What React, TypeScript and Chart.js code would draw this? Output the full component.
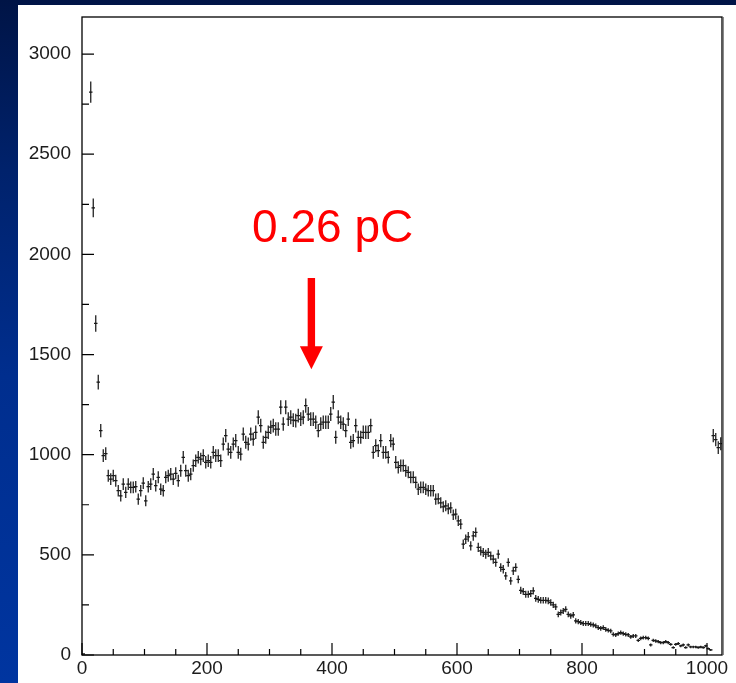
import React, { useEffect, useRef } from "react";
import { Chart, registerables } from "chart.js";

Chart.register(...registerables);

// ---- data ----
const BIN_WIDTH = 4;
const X_MIN = 0;
const X_MAX = 1024;
const Y_MIN = 0;
const Y_MAX = 3185;

const X_TICKS = [0, 200, 400, 600, 800, 1000];
const Y_TICKS = [0, 500, 1000, 1500, 2000, 2500, 3000];
const X_MINOR_STEP = 50;
const Y_MINOR_STEP = 250;

// counts per 4-wide bin (256 bins, 0..1024)
const COUNTS_0_49 = [
  5, 0, 0, 2810, 2232, 1655, 1362, 1120, 995, 1005,
  895, 878, 895, 870, 820, 795, 853, 812, 853, 837,
  837, 840, 778, 820, 858, 770, 840, 853, 903, 845,
  887, 828, 820, 887, 895, 903, 878, 907, 870, 920,
  987, 920, 895, 903, 945, 970, 987, 978, 995, 962,
];
const COUNTS_50_99 = [
  970, 962, 1012, 995, 995, 970, 1053, 1095, 1028, 1012,
  1053, 1070, 1012, 1003, 1103, 1062, 1053, 1103, 1078, 1112,
  1187, 1145, 1062, 1087, 1112, 1137, 1145, 1128, 1128, 1237,
  1153, 1237, 1178, 1187, 1173, 1170, 1195, 1178, 1187, 1245,
  1203, 1178, 1178, 1162, 1120, 1153, 1162, 1162, 1162, 1203,
];
const COUNTS_100_149 = [
  1262, 1087, 1187, 1162, 1153, 1120, 1178, 1062, 1070, 1145,
  1087, 1087, 1112, 1112, 1112, 1145, 1012, 1045, 1020, 1070,
  1012, 1012, 987, 1070, 1053, 962, 937, 945, 945, 920,
  912, 887, 887, 862, 828, 837, 837, 828, 820, 820,
  820, 778, 780, 760, 740, 745, 730, 735, 700, 703,
];
const COUNTS_150_199 = [
  670, 653, 553, 578, 590, 545, 595, 612, 537, 520,
  512, 503, 512, 495, 478, 462, 503, 437, 428, 395,
  462, 370, 420, 437, 378, 323, 317, 303, 303, 307,
  320, 283, 278, 273, 273, 273, 270, 262, 250, 240,
  203, 212, 220, 228, 203, 195, 200, 170, 167, 162,
];
const COUNTS_200_255 = [
  157, 157, 157, 153, 150, 145, 137, 133, 137, 128,
  123, 120, 103, 100, 107, 112, 107, 103, 100, 90,
  95, 95, 73, 83, 87, 87, 83, 50, 73, 70,
  67, 62, 62, 67, 62, 53, 37, 53, 57, 45,
  50, 37, 50, 40, 40, 40, 37, 40, 37, 45,
  32, 25, 1095, 1075, 1035, 1055,
];
const COUNTS = [
  ...COUNTS_0_49,
  ...COUNTS_50_99,
  ...COUNTS_100_149,
  ...COUNTS_150_199,
  ...COUNTS_200_255,
];

// annotation (data coordinates)
const ANNOTATION_TEXT = "0.26 pC";
const LABEL_X = 401;
const LABEL_Y = 2061;
const ARROW_X = 367;
const ARROW_TOP = 1882;
const ARROW_TIP = 1427;

const FONT_FAMILY = '"Liberation Sans", Arial, Helvetica, sans-serif';
const TICK_COLOR = "#1c1c1c";

const histPlugin = {
  id: "histDecor",
  afterDatasetsDraw(chart: any) {
    const { ctx, chartArea } = chart;
    const xs = chart.scales.x;
    const ys = chart.scales.y;
    ctx.save();
    ctx.beginPath();
    ctx.rect(chartArea.left, chartArea.top, chartArea.right - chartArea.left, chartArea.bottom - chartArea.top);
    ctx.clip();
    ctx.strokeStyle = "#1a1a1a";
    ctx.lineWidth = 1.25;
    ctx.beginPath();
    COUNTS.forEach((c, i) => {
      if (c <= 0) return;
      const lo = X_MIN + i * BIN_WIDTH;
      const hi = lo + BIN_WIDTH;
      const px = xs.getPixelForValue(lo + BIN_WIDTH / 2);
      const err = Math.sqrt(c);
      ctx.moveTo(px, ys.getPixelForValue(c - err));
      ctx.lineTo(px, ys.getPixelForValue(c + err));
      const py = ys.getPixelForValue(c);
      ctx.moveTo(xs.getPixelForValue(lo) - 0.5, py);
      ctx.lineTo(xs.getPixelForValue(hi) + 0.5, py);
    });
    ctx.stroke();
    ctx.restore();
  },
  afterDraw(chart: any) {
    const { ctx, chartArea } = chart;
    const xs = chart.scales.x;
    const ys = chart.scales.y;
    const { left, right, top, bottom } = chartArea;
    ctx.save();
    // frame
    ctx.strokeStyle = "#000";
    ctx.lineWidth = 1.3;
    ctx.strokeRect(left, top, right - left, bottom - top);
    ctx.strokeStyle = "#8a8a8a";
    ctx.lineWidth = 1;
    ctx.beginPath();
    ctx.moveTo(right + 1.5, top);
    ctx.lineTo(right + 1.5, bottom);
    ctx.stroke();

    // inward ticks
    ctx.strokeStyle = "#000";
    ctx.lineWidth = 1.2;
    ctx.beginPath();
    for (let v = X_MIN; v <= X_MAX; v += X_MINOR_STEP) {
      const px = xs.getPixelForValue(v);
      const len = X_TICKS.includes(v) ? 12 : 6;
      ctx.moveTo(px, bottom);
      ctx.lineTo(px, bottom - len);
    }
    for (let v = Y_MIN; v <= Y_MAX; v += Y_MINOR_STEP) {
      const py = ys.getPixelForValue(v);
      const len = Y_TICKS.includes(v) ? 12 : 7;
      ctx.moveTo(left, py);
      ctx.lineTo(left + len, py);
    }
    ctx.stroke();

    // annotation
    ctx.fillStyle = "#ff0000";
    ctx.font = `46px ${FONT_FAMILY}`;
    ctx.textAlign = "center";
    ctx.textBaseline = "alphabetic";
    ctx.fillText(ANNOTATION_TEXT, xs.getPixelForValue(LABEL_X), ys.getPixelForValue(LABEL_Y));

    const ax = xs.getPixelForValue(ARROW_X);
    const aTop = ys.getPixelForValue(ARROW_TOP);
    const aTip = ys.getPixelForValue(ARROW_TIP);
    const headLen = 23;
    const headHalf = 11.5;
    const shaftHalf = 3.7;
    ctx.fillRect(ax - shaftHalf, aTop, shaftHalf * 2, aTip - headLen - aTop + 1);
    ctx.beginPath();
    ctx.moveTo(ax - headHalf, aTip - headLen);
    ctx.lineTo(ax + headHalf, aTip - headLen);
    ctx.lineTo(ax, aTip);
    ctx.closePath();
    ctx.fill();
    ctx.restore();
  },
};

export default function App() {
  const canvasRef = useRef<HTMLCanvasElement | null>(null);

  useEffect(() => {
    if (!canvasRef.current) return;
    const points = COUNTS.map((c, i) => ({ x: X_MIN + (i + 0.5) * BIN_WIDTH, y: c })).filter((p) => p.y > 0);
    const tickFont = { family: FONT_FAMILY, size: 19 };
    const chart = new Chart(canvasRef.current, {
      type: "scatter",
      data: {
        datasets: [
          {
            data: points,
            pointRadius: 0,
            showLine: false,
            borderColor: "#000",
            backgroundColor: "#000",
          },
        ],
      },
      options: {
        animation: false,
        responsive: false,
        maintainAspectRatio: false,
        events: [],
        layout: { padding: { left: 0, top: 17, right: 14, bottom: 0 } },
        plugins: { legend: { display: false }, tooltip: { enabled: false } },
        scales: {
          x: {
            type: "linear",
            min: X_MIN,
            max: X_MAX,
            grid: { display: false, drawTicks: false },
            border: { display: false },
            ticks: {
              padding: 2,
              font: tickFont,
              color: TICK_COLOR,
              maxRotation: 0,
              autoSkip: false,
              callback: (v: any) => String(v),
            },
            afterBuildTicks: (s: any) => {
              s.ticks = X_TICKS.map((value) => ({ value }));
            },
            afterFit: (s: any) => {
              s.height = 28;
              s.paddingLeft = 0;
              s.paddingRight = 0;
            },
          },
          y: {
            type: "linear",
            min: Y_MIN,
            max: Y_MAX,
            grid: { display: false, drawTicks: false },
            border: { display: false },
            ticks: {
              padding: 11,
              font: tickFont,
              color: TICK_COLOR,
              autoSkip: false,
              callback: (v: any) => String(v),
            },
            afterBuildTicks: (s: any) => {
              s.ticks = Y_TICKS.map((value) => ({ value }));
            },
            afterFit: (s: any) => {
              s.width = 82;
              s.paddingTop = 0;
              s.paddingBottom = 0;
            },
          },
        },
      } as any,
      plugins: [histPlugin],
    });
    return () => chart.destroy();
  }, []);

  return (
    <div
      style={{
        position: "fixed",
        left: 0,
        top: 0,
        width: 736,
        height: 683,
        overflow: "hidden",
        background:
          "linear-gradient(180deg, #001446 0%, #00226c 25%, #002e8e 55%, #0035a0 100%)",
      }}
    >
      <div
        style={{
          position: "absolute",
          left: 18,
          top: 5,
          width: 718,
          height: 678,
          background: "#ffffff",
        }}
      />
      <canvas
        ref={canvasRef}
        width={736}
        height={683}
        style={{ position: "absolute", left: 0, top: 0, width: 736, height: 683 }}
      />
    </div>
  );
}
